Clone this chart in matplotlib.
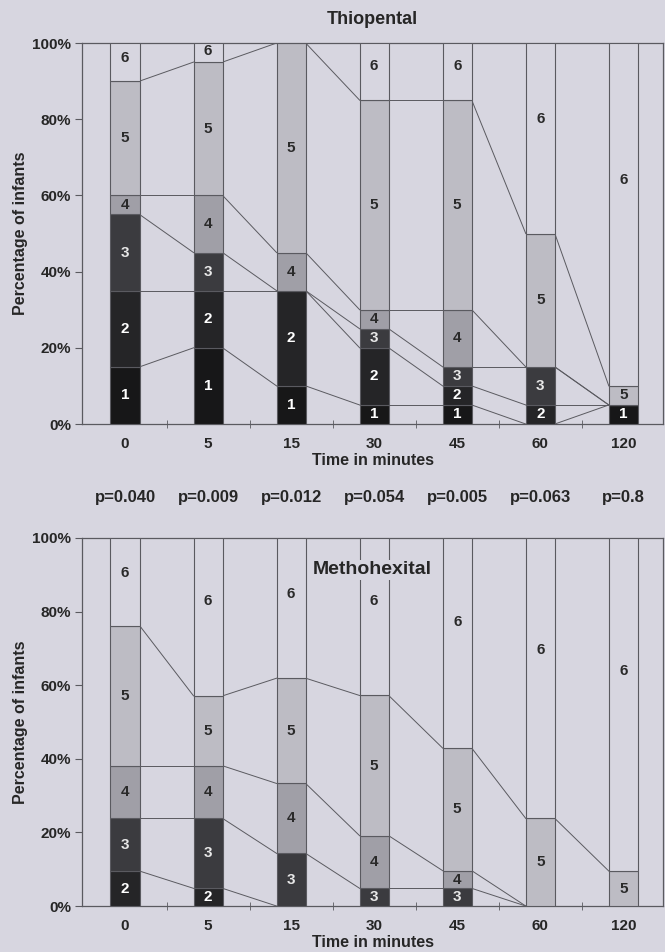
import numpy as np
import matplotlib.pyplot as plt
from matplotlib.transforms import blended_transform_factory

plt.rcParams['font.family'] = ['Liberation Sans', 'DejaVu Sans']
plt.rcParams['font.weight'] = 'bold'
plt.rcParams['axes.titleweight'] = 'bold'
plt.rcParams['axes.labelweight'] = 'bold'

# === 数据 ===
times = ['0', '5', '15', '30', '45', '60', '120']
p_values = ['p=0.040', 'p=0.009', 'p=0.012', 'p=0.054', 'p=0.005', 'p=0.063', 'p=0.8']
levels = ['1', '2', '3', '4', '5', '6']

# 每个时间点各评分所占百分比 (1..6)
thio_pct = [
    [15, 20, 20, 5, 30, 10],
    [20, 15, 10, 15, 35, 5],
    [10, 25, 0, 10, 55, 0],
    [5, 15, 5, 5, 55, 15],
    [5, 5, 5, 15, 55, 15],
    [0, 5, 10, 0, 35, 50],
    [5, 0, 0, 0, 5, 90],
]
metho_pct = [
    [0, 9.5, 14.3, 14.3, 38.1, 23.8],
    [0, 4.8, 19.0, 14.3, 19.0, 42.9],
    [0, 0, 14.3, 19.0, 28.6, 38.1],
    [0, 0, 4.8, 14.3, 38.1, 42.9],
    [0, 0, 4.8, 4.8, 33.3, 57.1],
    [0, 0, 0, 0, 23.8, 76.2],
    [0, 0, 0, 0, 9.5, 90.5],
]

# === 样式 ===
bg = '#d7d6e0'
seg_colors = ['#171718', '#252527', '#3b3b3f', '#a09fa7', '#bdbcc4', bg]
txt_colors = ['white', 'white', '#e8e8e8', '#2a2a2a', '#2a2a2a', '#2a2a2a']
dark = '#262626'
line_c = '#5a5a60'
bar_w = 0.35


def draw_panel(ax, pct):
    pct = np.array(pct, dtype=float)
    cum = np.cumsum(pct, axis=1)
    bottoms = cum - pct
    x = np.arange(len(times))
    for k in range(len(levels)):
        ax.bar(x, pct[:, k], bar_w, bottom=bottoms[:, k], color=seg_colors[k],
               edgecolor=line_c, linewidth=0.8, zorder=3)
        for i in range(len(times)):
            h = pct[i, k]
            if h <= 0:
                continue
            # 第6级标签位置偏上
            yy = bottoms[i, k] + h * (0.6 if k == 5 else 0.5)
            ax.text(x[i], yy, levels[k], ha='center', va='center', fontsize=11,
                    color=txt_colors[k], fontweight='bold', zorder=4)
    # 相邻柱子之间的连接线
    for i in range(len(times) - 1):
        for k in range(len(levels) - 1):
            ax.plot([x[i] + bar_w / 2, x[i + 1] - bar_w / 2], [cum[i, k], cum[i + 1, k]],
                    color=line_c, linewidth=0.7, zorder=2)

    ax.set_facecolor(bg)
    ax.set_xlim(-0.518, 6.48)
    ax.set_ylim(0, 100)
    ax.set_yticks(np.arange(0, 101, 20))
    ax.set_yticklabels([f'{v}%' for v in range(0, 101, 20)])
    ax.set_xticks(x)
    ax.set_xticklabels(times)
    ax.set_xticks(x[:-1] + 0.5, minor=True)
    ax.tick_params(axis='x', which='major', length=0, pad=9, labelsize=11, labelcolor=dark)
    ax.tick_params(axis='x', which='minor', length=6, direction='inout', color=line_c)
    ax.tick_params(axis='y', length=5, direction='out', color=line_c, labelsize=11,
                   labelcolor=dark, pad=3)
    for s in ax.spines.values():
        s.set_color(line_c)
        s.set_linewidth(0.9)
    ax.set_ylabel('Percentage of infants', fontsize=11.5, color=dark, labelpad=3)
    ax.set_xlabel('Time in minutes', fontsize=11.5, color=dark, labelpad=2)


fig = plt.figure(figsize=(6.65, 9.52), dpi=100)
fig.patch.set_facecolor(bg)

ax1 = fig.add_axes([0.1233, 0.5546, 0.874, 0.4002])
draw_panel(ax1, thio_pct)
ax1.set_title('Thiopental', fontsize=13, color=dark, pad=14)

# p值
tr = blended_transform_factory(ax1.transData, ax1.transAxes)
for i, p in enumerate(p_values):
    ax1.text(i, -0.193, p, transform=tr, ha='center', va='center', fontsize=12, color=dark)

ax2 = fig.add_axes([0.1233, 0.0483, 0.874, 0.3866])
draw_panel(ax2, metho_pct)
ax2.text(0.5, 0.913, 'Methohexital', transform=ax2.transAxes, ha='center', va='center',
         fontsize=14, color=dark, zorder=5,
         bbox=dict(facecolor=bg, edgecolor='none', pad=1))

fig.savefig('out.png', dpi=100, facecolor=bg)
